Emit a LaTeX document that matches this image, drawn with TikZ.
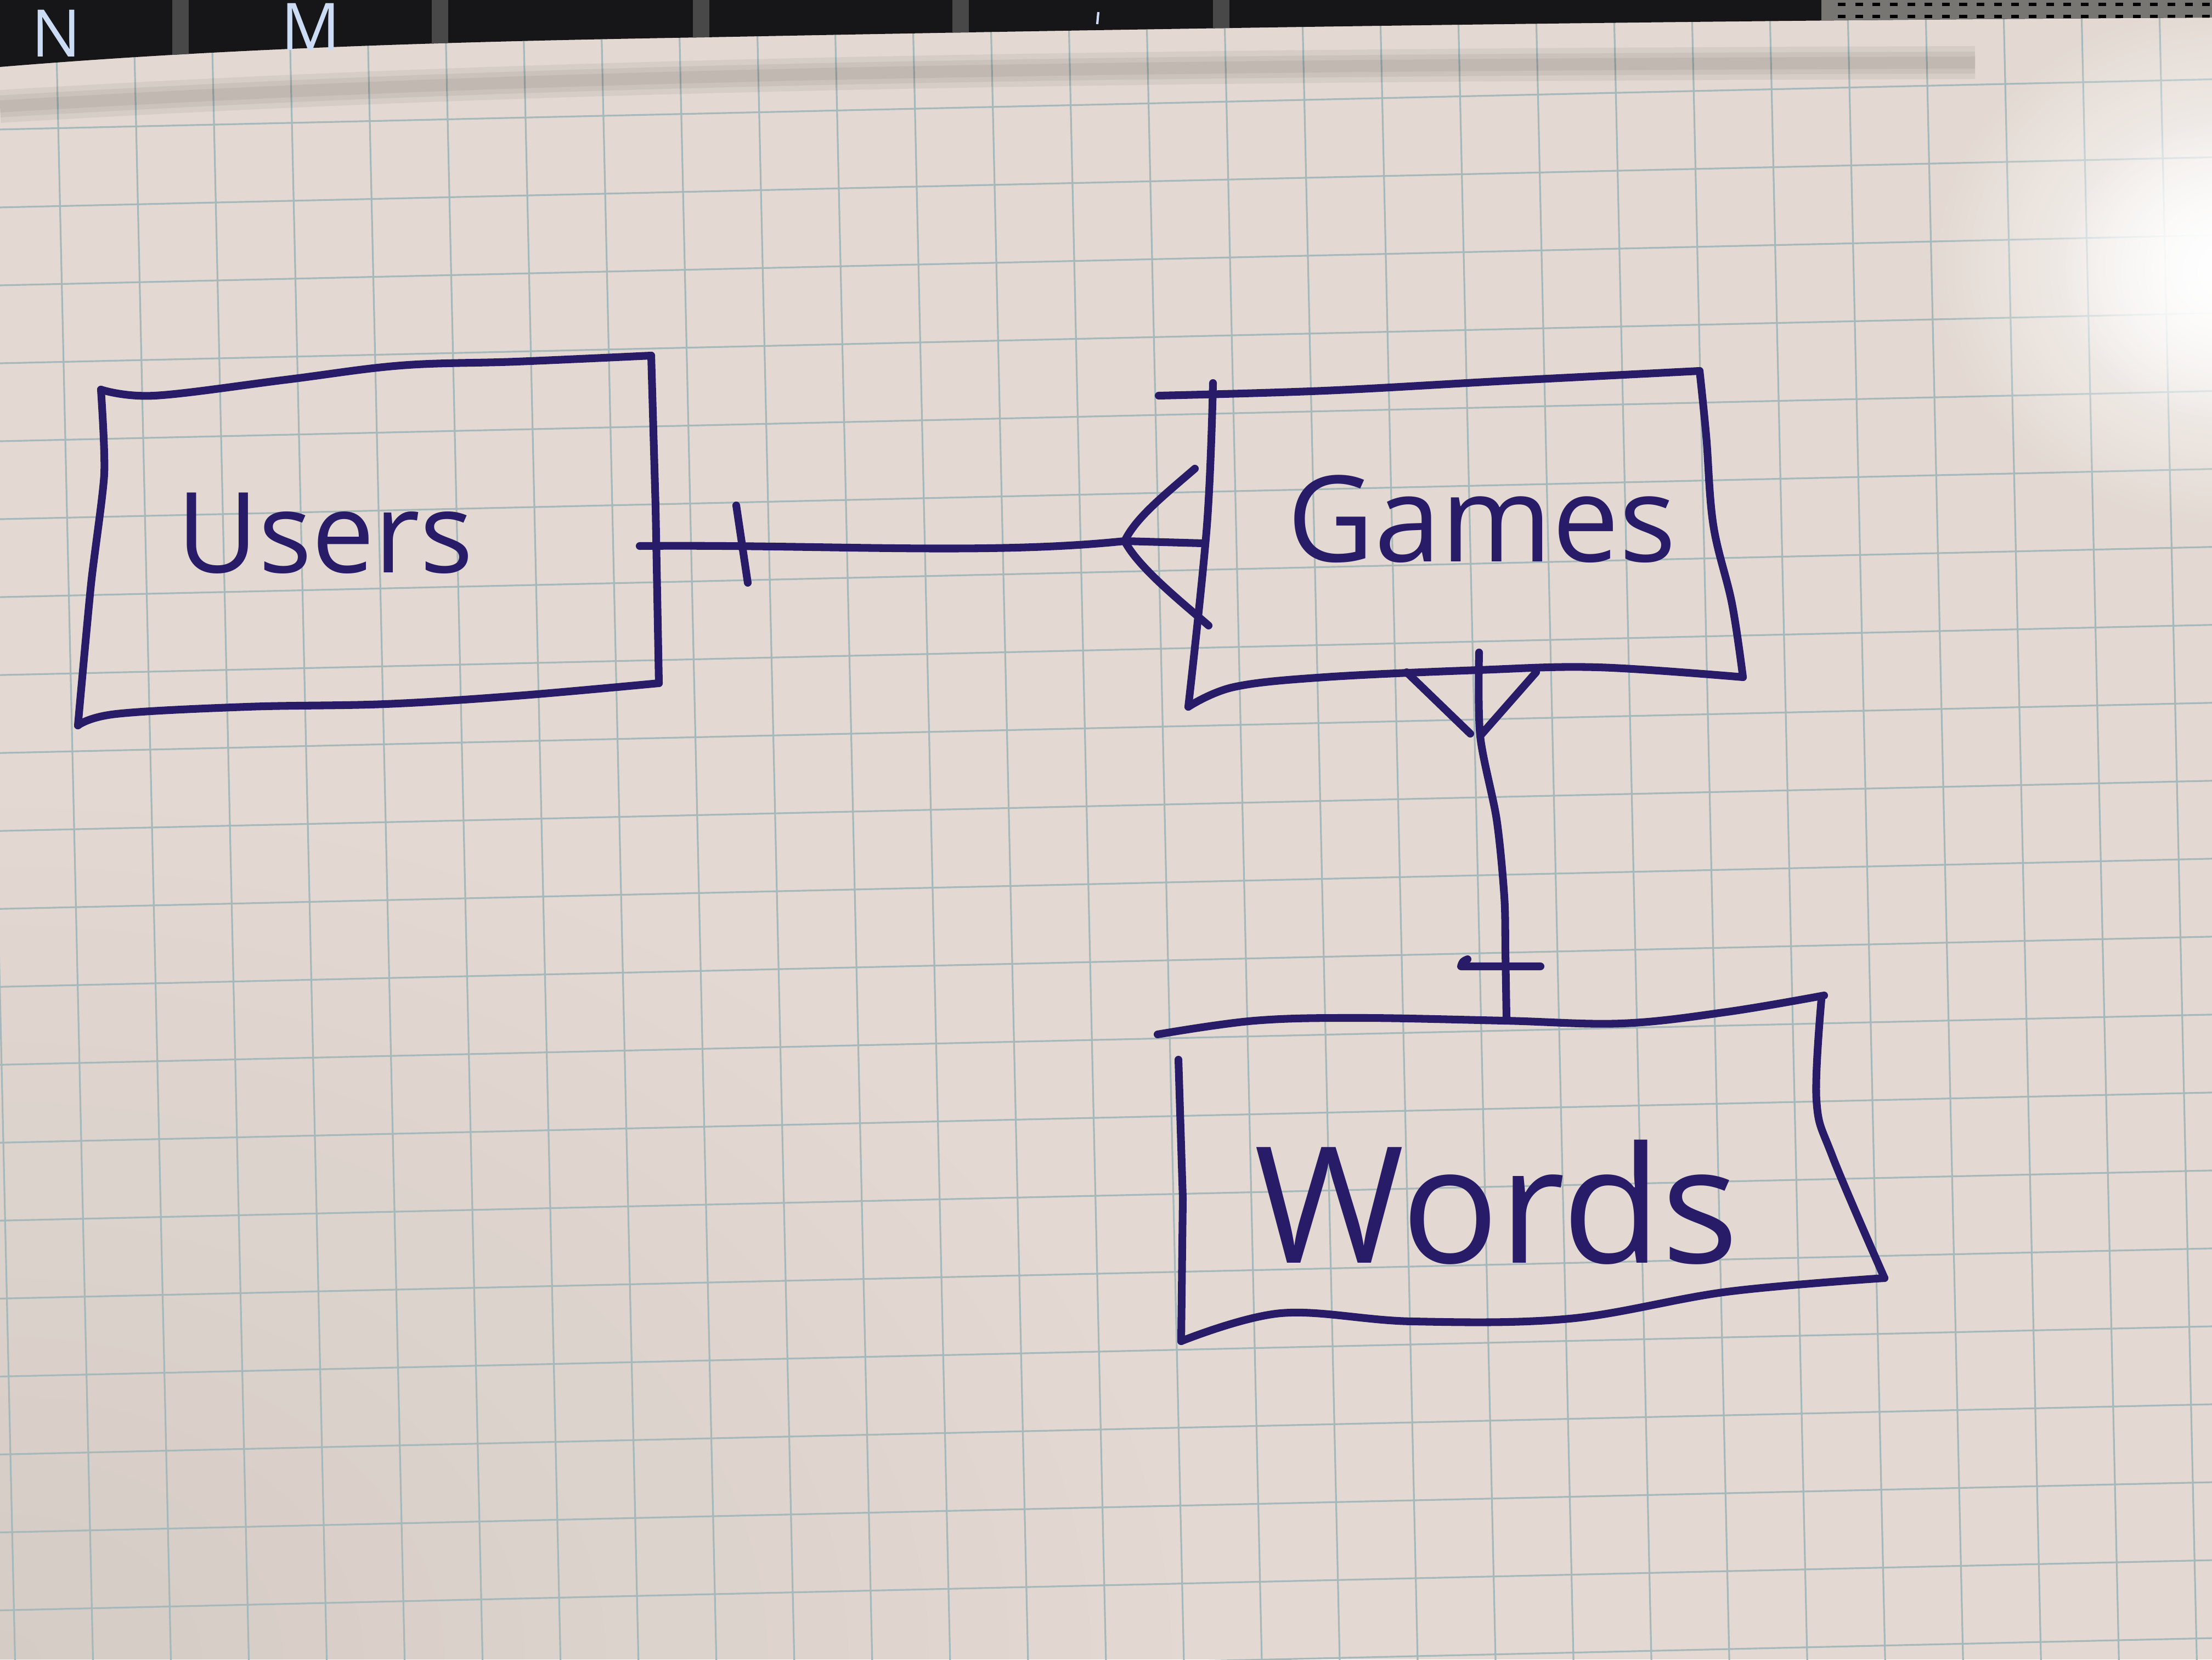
\documentclass[tikz,border=0pt]{standalone}
\usepackage{fontspec}
\setmainfont{Open Sans}
\usetikzlibrary{fadings}
\definecolor{paper}{RGB}{227,217,210}
\definecolor{gridc}{RGB}{166,184,186}
\definecolor{ink}{RGB}{40,28,105}
\definecolor{keyc}{RGB}{22,22,24}
\definecolor{keygap}{RGB}{72,72,72}
\definecolor{grille}{RGB}{120,118,115}
\definecolor{keylabel}{RGB}{205,220,245}
\tikzfading[name=glow, inner color=transparent!0, outer color=transparent!100]
\begin{document}
\begin{tikzpicture}[x=1cm,y=1cm,
  pen/.style={draw=ink, line width=4pt, line cap=round, line join=round},
  hand/.style={text=ink, inner sep=0pt, anchor=base},
  gridline/.style={draw=gridc, line width=0.9pt},
  shadowline/.style={black, opacity=0.05},
  keytext/.style={text=keylabel, inner sep=0pt, anchor=base, font=\fontsize{34}{34}\selectfont}]
\useasboundingbox (0,0) rectangle (40.32,30.24);
\fill[paper] (0,0) rectangle (40.32,30.24);
% slight darkening toward bottom left
\fill[black, opacity=0.06, path fading=glow] (0,0) ellipse (22 and 16);
% grid paper
\begin{scope}
\clip (0,0) rectangle (40.32,30.24);
\begin{scope}[shift={(21.29,12.74)}, rotate=1.3]
\foreach \i in {-16,...,14} \draw[gridline] (\i*1.42,-14) -- (\i*1.42,20);
\foreach \j in {-10,...,14} \draw[gridline] (-24,\j*1.42) -- (22,\j*1.42);
\end{scope}
\end{scope}
% glare
\fill[white, path fading=glow] (40.7,25.4) ellipse (5.5 and 4.8);
\fill[white, path fading=glow] (40.7,25.3) ellipse (3.2 and 2.8);
% soft shadow of keyboard
\foreach \w in {0.6,0.4,0.22}
  \draw[shadowline, line width=\w cm] (0,28.3) .. controls (10,28.9) and (20,29.05) .. (36,29.1);
% keyboard strip
\def\kbpath{(0,30.24) -- (0,29.02) .. controls (4,29.35) and (8,29.48) .. (12.86,29.56) .. controls (18,29.66) and (28,29.85) .. (40.32,29.92) -- (40.32,30.24) -- cycle}
\fill[keyc] \kbpath;
\begin{scope}
\clip \kbpath;
\foreach \x in {3.29,8.02,12.78,17.51,22.26} \fill[keygap] (\x-0.15,28.8) rectangle (\x+0.15,30.3);
\fill[grille] (33.2,28.8) rectangle (40.32,30.3);
\foreach \yy in {30.16,29.94} \draw[black, line width=1.6pt, dash pattern=on 4pt off 5pt] (33.5,\yy) -- (40.32,\yy);
\end{scope}
\node[keytext] (keyN) at (1.03,29.20) {N};
\node[keytext] (keyM) at (5.66,29.32) {M};
\coordinate (slashA) at (20.00,29.80);
\coordinate (slashB) at (20.02,30.02);
\draw[keylabel, line width=1.2pt] (slashA) -- (slashB);
% ---------- Users ----------
\draw[pen] plot[smooth, tension=0.6] coordinates {(1.84,23.14)(2.82,23.03)(5.21,23.32)(7.31,23.58)(9.42,23.65)(11.87,23.76)};
\draw[pen] (11.87,23.76) -- (11.95,21.0) -- (12.01,17.79);
\draw[pen] plot[smooth, tension=0.6] coordinates {(12.01,17.79)(9.42,17.56)(7.03,17.41)(4.51,17.36)(2.12,17.23)(1.42,17.02)};
\draw[pen] plot[smooth, tension=0.4] coordinates {(1.42,17.02)(1.66,19.6)(1.90,21.6)(1.84,23.14)};
\node[hand, font=\fontsize{58}{60}\selectfont] (users) at (5.93,19.80) {Users};
% ---------- Games ----------
\draw[pen] plot[smooth, tension=0.6] coordinates {(21.12,23.03)(24.15,23.12)(27.46,23.30)(30.98,23.48)};
\draw[pen] plot[smooth, tension=0.6] coordinates {(22.11,23.26)(22.00,20.67)(21.66,17.36)};
\draw[pen] plot[smooth, tension=0.6] coordinates {(30.98,23.48)(31.10,22.3)(31.23,20.67)(31.57,19.24)(31.77,17.90)};
\draw[pen] plot[smooth, tension=0.6] coordinates {(31.77,17.90)(29.12,18.08)(26.96,18.03)(24.15,17.90)(22.49,17.72)(21.66,17.36)};
\node[hand, font=\fontsize{62}{64}\selectfont] (games) at (27.01,20.00) {Games};
% ---------- Words ----------
\draw[pen] plot[smooth, tension=0.6] coordinates {(21.10,11.39)(22.87,11.64)(24.79,11.69)(27.42,11.64)(29.57,11.59)(31.48,11.80)(33.25,12.10)};
\draw[pen] plot[smooth, tension=0.6] coordinates {(33.20,12.03)(33.11,10.19)(33.40,9.17)(34.35,6.95)};
\draw[pen] plot[smooth, tension=0.6] coordinates {(34.35,6.95)(31.48,6.70)(28.61,6.21)(25.74,6.16)(23.35,6.31)(21.53,5.80)};
\draw[pen] (21.48,10.93) -- (21.56,8.4) -- (21.53,5.80);
\node[hand, font=\fontsize{84}{86}\selectfont] (words) at (27.28,7.23) {Words};
% ---------- Users -- Games (one to many) ----------
\coordinate (ueast) at (11.66,20.29);
\coordinate (gwest) at (21.91,20.34);
\coordinate (crowA) at (20.50,20.38);
\draw[pen] (ueast) .. controls (15,20.32) and (18,20.12) .. (crowA) -- (gwest);
\coordinate (tickAtop) at (13.42,21.03);
\coordinate (tickAbot) at (13.63,19.62);
\draw[pen] (tickAtop) -- (tickAbot);
\coordinate (crowAup) at (21.78,21.70);
\coordinate (crowAdn) at (22.03,18.84);
\draw[pen] (crowAup) .. controls (21.2,21.2) and (20.7,20.8) .. (crowA) .. controls (20.75,19.9) and (21.5,19.3) .. (crowAdn);
% ---------- Games -- Words (many to one) ----------
\coordinate (gsouth) at (26.96,18.35);
\coordinate (crowB) at (26.98,16.83);
\coordinate (wnorth) at (27.46,11.69);
\draw[pen] plot[smooth, tension=0.5] coordinates {(gsouth)(crowB)(27.28,15.31)(27.42,13.9)(27.44,12.9)(wnorth)};
\coordinate (crowBl) at (25.64,17.99);
\coordinate (crowBr) at (28.00,17.99);
\draw[pen] (crowBl) -- (26.80,16.87);
\draw[pen] (crowBr) -- (crowB);
\coordinate (tickBl) at (26.63,12.63);
\coordinate (tickBr) at (28.08,12.63);
\draw[pen] (26.75,12.76) .. controls (26.66,12.72) .. (tickBl) -- (tickBr);
\end{tikzpicture}
\end{document}
